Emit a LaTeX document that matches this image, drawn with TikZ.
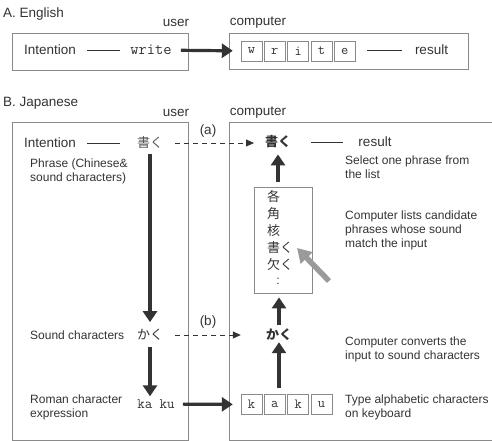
\documentclass[tikz,border=0pt]{standalone}
\usepackage{fontspec}
\setmainfont{Liberation Sans}
\newfontfamily\jpfont{Noto Sans CJK JP}
\usetikzlibrary{arrows.meta,positioning}
\definecolor{ink}{HTML}{333333}
\definecolor{frame}{HTML}{8A8A8A}
\definecolor{pointer}{HTML}{9A9A9A}
\tikzset{
  txt/.style={text=ink, inner sep=1pt, font=\fontsize{13.5}{15}\selectfont},
  note/.style={text=ink, inner sep=0pt, anchor=base west, align=left, font=\fontsize{12}{14}\selectfont},
  kana/.style={text=ink, inner sep=1pt, font=\jpfont\fontsize{13}{15}\selectfont},
  keybox/.style={draw=frame, text=ink, minimum width=21pt, minimum height=20pt, inner sep=0pt, font=\ttfamily\fontsize{14}{14}\selectfont},
  fat/.style={draw=ink, line width=3.2pt, -{Triangle[length=11pt,width=14pt]}},
  hint/.style={draw=ink, line width=0.8pt, dash pattern=on 5pt off 4pt, -{Triangle[length=8pt,width=7pt]}},
  tie/.style={draw=ink, line width=0.8pt},
  panel/.style={draw=frame, line width=0.8pt},
}
\begin{document}
\begin{tikzpicture}[x=1pt, y=-1pt]
    \clip (0,0) rectangle (492,441);
    % A. English: typed word goes straight through
    \node[txt, anchor=west] (titleA) at (2,14) {A. English};
    \node[txt] (userA) at (176,23) {user};
    \node[txt] (compA) at (258,23) {computer};
    \draw[panel] (12,33) rectangle (188,70);
    \draw[panel] (229,33) rectangle (468,69);
    \node[txt, anchor=west] (intA) at (23,50) {Intention};
    \node[txt, font=\ttfamily\fontsize{16}{16}\selectfont] (writeA) at (151,50) {write};
    \draw[tie, shorten <=10pt, shorten >=9pt] (intA) -- (writeA);
    \foreach \ch [count=\i] in {w,r,i,t,e}
        \node[keybox] (keyA\i) at (251.5+23.3*\i-23.3, 51) {\ch};
    \draw[fat, shorten <=8pt, shorten >=8pt] (writeA) -- (keyA1);
    \node[txt] (resA) at (431.5,50) {result};
    \draw[tie, shorten <=12pt, shorten >=12pt] (keyA5.east |- resA) -- (resA);
    % B. Japanese: user side
    \node[txt, anchor=west] (titleB) at (2,103) {B. Japanese};
    \node[txt] (userB) at (176,113) {user};
    \node[txt] (compB) at (258,113) {computer};
    \draw[panel] (12,122) rectangle (188,440);
    \draw[panel] (229,122) rectangle (520,440);
    \node[txt, anchor=west] (intB) at (23,143) {Intention};
    \node[kana, text=ink!85] (kakuU) at (150,143) {書く};
    \draw[tie, shorten <=10pt, shorten >=16pt] (intB) -- (kakuU);
    % multi-line notes sit on the baseline of their last line
    \node[note] (phrase) at (30,181) {Phrase (Chinese\&\\sound characters)};
    \node[note] (sound) at (30,339.5) {Sound characters};
    \node[kana] (soundU) at (150,335) {かく};
    \node[note] (roman) at (30,417.5) {Roman character\\expression};
    \node[txt, font=\ttfamily\fontsize{14.5}{14}\selectfont] (romaU) at (156,404) {ka ku};
    \draw[fat, shorten <=4pt, shorten >=6pt] (kakuU) -- (soundU);
    \draw[fat, shorten <=5pt, shorten >=2pt] (soundU) -- (soundU |- romaU.north);
    % B. Japanese: computer side
    \foreach \ch [count=\i] in {k,a,k,u}
        \node[keybox] (keyB\i) at (251.5+23.3*\i-23.3, 404.5) {\ch};
    \draw[fat, shorten <=7pt, shorten >=8pt] (romaU) -- (keyB1);
    \node[kana, font=\jpfont\bfseries\fontsize{13}{15}\selectfont] (kakuC) at (279,335) {かく};
    \node[kana, font=\jpfont\bfseries\fontsize{13}{15}\selectfont] (shoC) at (278,142) {書く};
    \node[draw=frame, line width=0.8pt, minimum width=58pt, minimum height=106pt, inner sep=0pt] (cands) at (283,240) {};
    \foreach \ch [count=\i] in {各,角,核,書く,欠く}
        \node[kana, anchor=west] (cand\i) at (266,197+16.9*\i-16.9) {\ch};
    \node[txt, font=\fontsize{12}{12}\selectfont] (candMore) at (278,281) {:};
    \draw[fat, shorten <=6pt, shorten >=0pt] (kakuC |- keyB2.north) -- (kakuC);
    \draw[fat, shorten <=3pt, shorten >=4pt] (kakuC) -- (kakuC |- cands.south);
    \draw[fat, shorten <=5pt, shorten >=5pt] (shoC |- cands.north) -- (shoC);
    \coordinate (pickTail) at (329,281);
    \coordinate (pickTip) at (297,248);
    \draw[draw=pointer, line width=5.5pt, -{Triangle[length=14pt,width=16pt]}] (pickTail) -- (pickTip);
    \node[txt] (resB) at (375,142) {result};
    \draw[tie, shorten <=19pt, shorten >=14pt] (shoC) -- (resB);
    % links between the two sides
    \draw[hint, shorten <=11pt, shorten >=24pt] (kakuU) -- (shoC |- kakuU);
    \node[txt] (labA) at (208,131) {(a)};
    \draw[hint, shorten <=11pt, shorten >=24pt] (soundU) -- (kakuC);
    \node[txt] (labB) at (208,322) {(b)};
    % explanations
    \node[note] (selNote) at (345,178.5) {Select one phrase from\\the list};
    \node[note] (listNote) at (345,247.5) {Computer lists candidate\\phrases whose sound\\match the input};
    \node[note] (convNote) at (345,359.5) {Computer converts the\\input to sound characters};
    \node[note] (typeNote) at (345,417) {Type alphabetic characters\\on keyboard};
\end{tikzpicture}
\end{document}
